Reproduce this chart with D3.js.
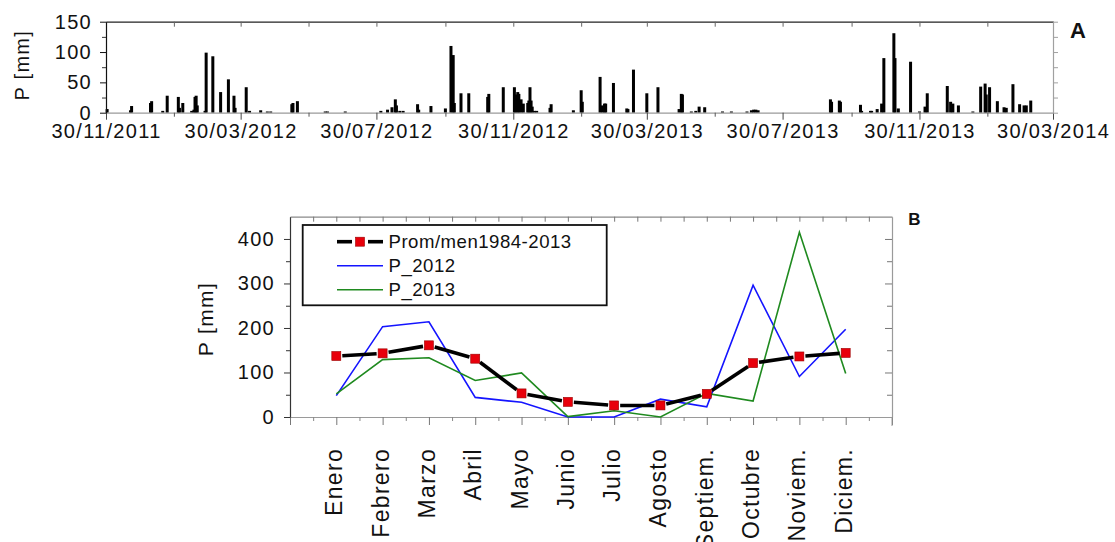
<!DOCTYPE html>
<html>
<head>
<meta charset="utf-8">
<script src="https://cdn.jsdelivr.net/npm/d3@7"></script>
<style>
  html, body { margin: 0; padding: 0; background: #fff; }
  svg { display: block; }
</style>
</head>
<body>
<svg id="fig" width="1115" height="542"></svg>
<script>
// ---------------- Panel A: daily precipitation ----------------
const dailyDates = [
  "2011-12-01","2011-12-22","2011-12-23","2012-01-09","2012-01-10","2012-01-20","2012-01-24",
  "2012-02-03","2012-02-04","2012-02-07","2012-02-15","2012-02-17","2012-02-18","2012-02-19",
  "2012-02-20","2012-02-27","2012-02-28","2012-03-05","2012-03-12","2012-03-19","2012-03-24",
  "2012-03-25","2012-04-04","2012-04-07","2012-04-17","2012-04-23","2012-04-26","2012-05-15",
  "2012-05-16","2012-05-20","2012-06-14","2012-06-16","2012-07-02","2012-08-03","2012-08-09",
  "2012-08-13","2012-08-16","2012-08-17","2012-08-20","2012-08-23","2012-09-05","2012-09-06",
  "2012-09-17","2012-09-30","2012-10-05","2012-10-07","2012-10-08","2012-10-14","2012-10-21",
  "2012-11-07","2012-11-08","2012-11-21","2012-12-01","2012-12-02","2012-12-04","2012-12-05",
  "2012-12-07","2012-12-09","2012-12-13","2012-12-14","2012-12-15","2012-12-16","2012-12-17",
  "2012-12-19","2012-12-21","2013-01-02","2013-01-03","2013-01-23","2013-01-30","2013-01-31",
  "2013-02-16","2013-02-18","2013-02-20","2013-02-21","2013-02-28","2013-03-12","2013-03-13",
  "2013-03-18","2013-03-30","2013-04-09","2013-04-28","2013-04-30","2013-05-01","2013-05-09",
  "2013-05-13","2013-05-16","2013-05-21","2013-06-06","2013-06-14","2013-06-28","2013-07-02",
  "2013-07-04","2013-07-06","2013-07-08","2013-09-11","2013-09-12","2013-09-19","2013-09-20",
  "2013-10-08","2013-10-09","2013-10-17","2013-10-18","2013-10-23","2013-10-27","2013-10-29",
  "2013-11-07","2013-11-08","2013-11-11","2013-11-22","2013-11-30","2013-12-05","2013-12-07",
  "2013-12-25","2013-12-28","2013-12-30","2014-01-04","2014-01-17","2014-01-24","2014-01-28",
  "2014-01-29","2014-02-01","2014-02-08","2014-02-14","2014-02-16","2014-02-22","2014-02-28",
  "2014-03-04","2014-03-06","2014-03-10"
];
const dailyRain = [
  6, 4, 11, 16, 19, 3, 28,
  26, 8, 16, 3, 5, 26, 28,
  12, 3, 99, 93, 34, 55, 28,
  8, 42, 3, 4, 2, 2, 14,
  16, 19, 2, 2, 2, 3, 5,
  9, 22, 12, 3, 3, 14, 5,
  11, 7, 110, 95, 16, 32, 32,
  26, 31, 42, 42, 30, 34, 31,
  22, 15, 16, 20, 42, 20, 10,
  3, 3, 8, 14, 4, 37, 18,
  59, 12, 15, 15, 49, 7, 6,
  71, 32, 42, 6, 31, 30, 2,
  3, 10, 9, 2, 2, 2, 4,
  5, 5, 4, 22, 18, 20, 18,
  13, 3, 3, 3, 6, 15, 90,
  131, 90, 7, 84, 2, 10, 32,
  44, 18, 15, 12, 2, 43, 48,
  30, 42, 19, 9, 8, 47, 14,
  12, 12, 20
];
const rainTicks = [0, 50, 100, 150];
const rainMinorTicks = [25, 75, 125];
const dateLabels = ["30/11/2011", "30/03/2012", "30/07/2012", "30/11/2012",
                    "30/03/2013", "30/07/2013", "30/11/2013", "30/03/2014"];
const dateMinorTicks = ["30/01/2012", "30/05/2012", "30/09/2012", "30/01/2013",
                        "30/05/2013", "30/09/2013", "30/01/2014"];

// ---------------- Panel B: monthly totals ----------------
const months = ["Enero", "Febrero", "Marzo", "Abril", "Mayo", "Junio",
                "Julio", "Agosto", "Septiem.", "Octubre", "Noviem.", "Diciem."];
const promMensual = [137, 143, 161, 131, 53, 34, 26, 26, 52, 121, 136, 144];
const p2012 = [48, 203, 214, 44, 33, 0, 0, 40, 23, 296, 91, 197];
const p2013 = [52, 129, 133, 82, 99, 1, 14, 0, 53, 36, 415, 98];
const seriesNames = ["Prom/men1984-2013", "P_2012", "P_2013"];
const monthlyTicks = [0, 100, 200, 300, 400];
const monthlyMinorTicks = [50, 150, 250, 350];

const FONT = '"Liberation Sans", Arial, Helvetica, sans-serif';
const svg = d3.select("#fig");
const parseDay = d3.utcParse("%Y-%m-%d");
const parseTick = d3.utcParse("%d/%m/%Y");
const fmtTick = d3.utcFormat("%d/%m/%Y");

function styleAxis(g, color, textSize, spacing) {
  g.attr("font-family", FONT).attr("font-size", null);
  g.select(".domain").attr("stroke", color).attr("stroke-width", 1.2);
  g.selectAll(".tick line").attr("stroke", color).attr("stroke-width", 1);
  g.selectAll(".tick text").attr("fill", "#111")
    .attr("font-size", textSize).attr("letter-spacing", spacing);
}

// ======================= Panel A =======================
const A = { left: 106, right: 1053, top: 21.7, bottom: 112.7 };
const xA = d3.scaleUtc()
  .domain([parseTick(dateLabels[0]), parseTick(dateLabels[dateLabels.length - 1])])
  .range([A.left, A.right]);
const yA = d3.scaleLinear().domain([0, 150]).range([A.bottom, A.top]);
const gA = svg.append("g");

// daily bars
gA.append("g").selectAll("rect")
  .data(d3.zip(dailyDates, dailyRain))
  .join("rect")
  .attr("x", d => xA(parseDay(d[0])) - 1.5)
  .attr("width", 3)
  .attr("y", d => yA(d[1]))
  .attr("height", d => yA(0) - yA(d[1]))
  .attr("fill", "#000");

const majorDatesA = dateLabels.map(parseTick);
const minorDatesA = dateMinorTicks.map(parseTick);

// bottom axis on the zero line
const axBA = gA.append("g").attr("transform", `translate(0,${yA(0)})`)
  .call(d3.axisBottom(xA).tickValues(majorDatesA).tickFormat(fmtTick)
        .tickSize(7).tickPadding(4).tickSizeOuter(0));
styleAxis(axBA, "#9a9a9a", 20, 1.3);
axBA.selectAll(".tick line").attr("stroke", "#444");
const axBAm = gA.append("g").attr("transform", `translate(0,${yA(0)})`)
  .call(d3.axisBottom(xA).tickValues(minorDatesA).tickFormat("").tickSize(4).tickSizeOuter(0));
axBAm.select(".domain").remove();
axBAm.selectAll(".tick line").attr("stroke", "#555");

// top frame with inward ticks
const axTA = gA.append("g").attr("transform", `translate(0,${A.top})`)
  .call(d3.axisTop(xA).tickValues(majorDatesA.concat(minorDatesA)).tickFormat("")
        .tickSize(-5).tickSizeOuter(0));
styleAxis(axTA, "#222", 12, 0);
axTA.selectAll(".tick line").attr("stroke", "#666");

// right frame
const axRA = gA.append("g").attr("transform", `translate(${A.right},0)`)
  .call(d3.axisRight(yA).tickValues(rainTicks.concat(rainMinorTicks)).tickFormat("")
        .tickSize(5).tickSizeOuter(0));
styleAxis(axRA, "#a0a0a0", 12, 0);

// left axis
const axLA = gA.append("g").attr("transform", `translate(${A.left},0)`)
  .call(d3.axisLeft(yA).tickValues(rainTicks).tickSize(6).tickPadding(8).tickSizeOuter(0));
styleAxis(axLA, "#111", 20, 1.3);
const axLAm = gA.append("g").attr("transform", `translate(${A.left},0)`)
  .call(d3.axisLeft(yA).tickValues(rainMinorTicks).tickFormat("").tickSize(4).tickSizeOuter(0));
axLAm.select(".domain").remove();
axLAm.selectAll(".tick line").attr("stroke", "#333");

gA.append("text")
  .attr("transform", `translate(29,${(A.top + A.bottom) / 2 - 2}) rotate(-90)`)
  .attr("text-anchor", "middle")
  .attr("font-family", FONT).attr("font-size", 20).attr("letter-spacing", 1.3)
  .attr("fill", "#111")
  .text("P [mm]");

gA.append("text")
  .attr("x", 1078).attr("y", 37.5)
  .attr("text-anchor", "middle")
  .attr("font-family", FONT).attr("font-size", 22).attr("font-weight", "bold")
  .attr("fill", "#111")
  .text("A");

// ======================= Panel B =======================
const B = { left: 290, right: 892, top: 216.7, bottom: 417 };
const xB = d3.scaleLinear().domain([0, months.length + 1]).range([B.left, B.right]);
const yB = d3.scaleLinear().domain([0, 450]).range([B.bottom, B.top]);
const gB = svg.append("g");

const intPos = d3.range(0, months.length + 2);
const halfPos = d3.range(0.5, months.length + 1, 1);

// bottom axis
const axBB = gB.append("g").attr("transform", `translate(0,${B.bottom})`)
  .call(d3.axisBottom(xB).tickValues(intPos).tickFormat("").tickSize(8).tickSizeOuter(0));
styleAxis(axBB, "#9a9a9a", 12, 0);
axBB.selectAll(".tick line").attr("stroke", "#777");
const axBBm = gB.append("g").attr("transform", `translate(0,${B.bottom})`)
  .call(d3.axisBottom(xB).tickValues(halfPos).tickFormat("").tickSize(4).tickSizeOuter(0));
axBBm.select(".domain").remove();
axBBm.selectAll(".tick line").attr("stroke", "#888");

// top frame
const axTB = gB.append("g").attr("transform", `translate(0,${B.top})`)
  .call(d3.axisTop(xB).tickValues(d3.range(0.5, months.length + 1, 0.5)).tickFormat("")
        .tickSize(-5).tickSizeOuter(0));
styleAxis(axTB, "#8a8a8a", 12, 0);
axTB.selectAll(".tick line").attr("stroke", "#777");

// right frame, inward ticks
const axRB = gB.append("g").attr("transform", `translate(${B.right},0)`)
  .call(d3.axisLeft(yB).tickValues(monthlyTicks.filter(v => v > 0)).tickFormat("")
        .tickSize(7).tickSizeOuter(0));
styleAxis(axRB, "#9a9a9a", 12, 0);
axRB.selectAll(".tick line").attr("stroke", "#777");
const axRBm = gB.append("g").attr("transform", `translate(${B.right},0)`)
  .call(d3.axisLeft(yB).tickValues(monthlyMinorTicks).tickFormat("").tickSize(5).tickSizeOuter(0));
axRBm.select(".domain").remove();
axRBm.selectAll(".tick line").attr("stroke", "#777");
gB.append("line")
  .attr("x1", B.right).attr("x2", B.right)
  .attr("y1", B.bottom).attr("y2", B.bottom + 9)
  .attr("stroke", "#9a9a9a");

// left axis
const axLB = gB.append("g").attr("transform", `translate(${B.left},0)`)
  .call(d3.axisLeft(yB).tickValues(monthlyTicks).tickSize(6).tickPadding(9).tickSizeOuter(0));
styleAxis(axLB, "#333", 20, 1.3);
const axLBm = gB.append("g").attr("transform", `translate(${B.left},0)`)
  .call(d3.axisLeft(yB).tickValues(monthlyMinorTicks).tickFormat("").tickSize(4).tickSizeOuter(0));
axLBm.select(".domain").remove();
axLBm.selectAll(".tick line").attr("stroke", "#333");

// month names
gB.append("g").selectAll("text")
  .data(months)
  .join("text")
  .attr("transform", (d, i) => `translate(${xB(i + 1) + 6},448) rotate(-90)`)
  .attr("text-anchor", "end")
  .attr("font-family", FONT).attr("font-size", 23).attr("letter-spacing", 1.3)
  .attr("fill", "#111")
  .text(d => d);

gB.append("text")
  .attr("transform", `translate(213,${319}) rotate(-90)`)
  .attr("text-anchor", "middle")
  .attr("font-family", FONT).attr("font-size", 21).attr("letter-spacing", 1.4)
  .attr("fill", "#111")
  .text("P [mm]");

gB.append("text")
  .attr("x", 914.5).attr("y", 225)
  .attr("text-anchor", "middle")
  .attr("font-family", FONT).attr("font-size", 17).attr("font-weight", "bold")
  .attr("fill", "#111")
  .text("B");

// series lines
const monthLine = d3.line().x((d, i) => xB(i + 1)).y(d => yB(d));
gB.append("path").attr("d", monthLine(p2012))
  .attr("fill", "none").attr("stroke", "#1414ff").attr("stroke-width", 1.6);
gB.append("path").attr("d", monthLine(p2013))
  .attr("fill", "none").attr("stroke", "#1f8a1f").attr("stroke-width", 1.6);

// mean line: thick segments broken around each marker
const gap = 6;
const meanPts = promMensual.map((v, i) => [xB(i + 1), yB(v)]);
const segs = d3.pairs(meanPts).map(([p, q]) => {
  const dx = q[0] - p[0], dy = q[1] - p[1];
  const len = Math.hypot(dx, dy);
  const ux = dx / len, uy = dy / len;
  return [[p[0] + ux * gap, p[1] + uy * gap], [q[0] - ux * gap, q[1] - uy * gap]];
});
gB.append("g").selectAll("line")
  .data(segs)
  .join("line")
  .attr("x1", d => d[0][0]).attr("y1", d => d[0][1])
  .attr("x2", d => d[1][0]).attr("y2", d => d[1][1])
  .attr("stroke", "#000").attr("stroke-width", 3.6);
gB.append("g").selectAll("rect")
  .data(promMensual)
  .join("rect")
  .attr("x", (d, i) => xB(i + 1) - 4.5).attr("y", d => yB(d) - 4.5)
  .attr("width", 9).attr("height", 9)
  .attr("fill", "#e8000b").attr("stroke", "#9a0000").attr("stroke-width", 0.6);

// legend
const leg = gB.append("g");
leg.append("rect")
  .attr("x", 302.7).attr("y", 225).attr("width", 304).attr("height", 80.3)
  .attr("fill", "#fff").attr("stroke", "#111").attr("stroke-width", 1.8);
const legRows = [
  { name: seriesNames[0], color: "#000", width: 3.6, marker: true },
  { name: seriesNames[1], color: "#1414ff", width: 1.6, marker: false },
  { name: seriesNames[2], color: "#1f8a1f", width: 1.6, marker: false }
];
legRows.forEach((r, i) => {
  const cy = 241.7 + i * 24;
  if (r.marker) {
    leg.append("line").attr("x1", 337).attr("x2", 352).attr("y1", cy).attr("y2", cy)
      .attr("stroke", r.color).attr("stroke-width", r.width);
    leg.append("line").attr("x1", 368).attr("x2", 383).attr("y1", cy).attr("y2", cy)
      .attr("stroke", r.color).attr("stroke-width", r.width);
    leg.append("rect").attr("x", 360 - 4.5).attr("y", cy - 4.5).attr("width", 9).attr("height", 9)
      .attr("fill", "#e8000b").attr("stroke", "#9a0000").attr("stroke-width", 0.6);
  } else {
    leg.append("line").attr("x1", 337).attr("x2", 383).attr("y1", cy).attr("y2", cy)
      .attr("stroke", r.color).attr("stroke-width", r.width);
  }
  leg.append("text")
    .attr("x", 388.5).attr("y", cy + 6.6)
    .attr("font-family", FONT).attr("font-size", 18.6).attr("letter-spacing", 0.5)
    .attr("fill", "#111")
    .text(r.name);
});
</script>
</body>
</html>
